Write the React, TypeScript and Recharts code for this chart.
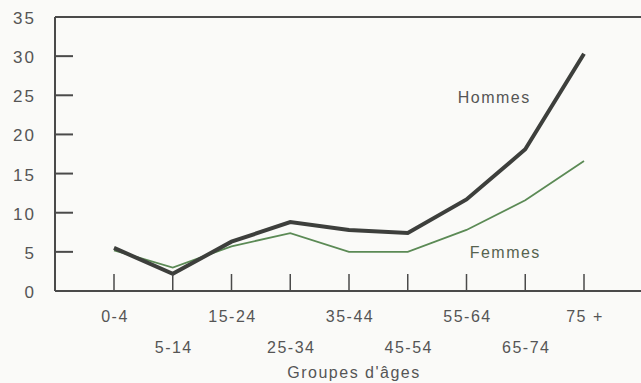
import React from 'react';
import { LineChart, Line, XAxis, YAxis, ReferenceLine, ReferenceDot } from 'recharts';

const categories = ['0-4', '5-14', '15-24', '25-34', '35-44', '45-54', '55-64', '65-74', '75 +'];
const hommes = [5.5, 2.2, 6.3, 8.8, 7.8, 7.4, 11.7, 18.1, 30.3];
const femmes = [5.2, 3.0, 5.7, 7.4, 5.0, 5.0, 7.8, 11.6, 16.6];
const yTicks = [0, 5, 10, 15, 20, 25, 30, 35];

const data = categories.map((c, i) => ({ age: c, hommes: hommes[i], femmes: femmes[i] }));

const axisColor = '#4a4a4a';
const textColor = '#555555';
const font = '"Liberation Sans", Arial, sans-serif';

// inward ticks + labels on the left axis
const LeftTick = (props: any) => {
  const { x, y, payload } = props;
  const v = payload.value;
  return (
    <g>
      {v !== 0 && v !== 35 && <line x1={x} x2={x + 18} y1={y} y2={y} stroke={axisColor} strokeWidth={2} />}
      <text x={x - 19} y={y} dy={7} textAnchor="end" fill={textColor} fontSize={17} letterSpacing={2} fontFamily={font}>
        {v}
      </text>
    </g>
  );
};

const RightTick = (props: any) => {
  const { x, y, payload } = props;
  const v = payload.value;
  if (v === 0 || v === 35) return null;
  return <line x1={x - 18} x2={x} y1={y} y2={y} stroke={axisColor} strokeWidth={2} />;
};

// alternating two-row labels, ticks pointing up into the plot
const BottomTick = (props: any) => {
  const { x, y, payload, index } = props;
  const row = index % 2 === 0 ? 31 : 62;
  return (
    <g>
      <line x1={x} x2={x} y1={y - 17} y2={y} stroke={axisColor} strokeWidth={1.5} />
      <text x={x + 1} y={y + row} textAnchor="middle" fill={textColor} fontSize={16} letterSpacing={1.5} fontFamily={font}>
        {payload.value}
      </text>
    </g>
  );
};

const App: React.FC = () => {
  return (
    <div style={{ position: 'fixed', top: 0, left: 0, width: 641, height: 383, overflow: 'hidden', background: '#fafaf8' }}>
      <LineChart width={660} height={383} data={data} margin={{ top: 17, right: 7, left: 0, bottom: 0 }}>
        <XAxis
          dataKey="age"
          height={92}
          interval={0}
          padding={{ left: 59, right: 69 }}
          stroke={axisColor}
          strokeWidth={2}
          tickLine={false}
          tickSize={0}
          tickMargin={0}
          tick={<BottomTick />}
          label={{ value: "Groupes d'âges", position: 'insideBottom', offset: 5, fill: textColor, fontSize: 16, letterSpacing: 1.5, fontFamily: font }}
        />
        <YAxis
          yAxisId="l"
          width={55}
          domain={[0, 35]}
          ticks={yTicks}
          interval={0}
          stroke={axisColor}
          strokeWidth={2}
          tickLine={false}
          tickSize={0}
          tickMargin={0}
          tick={<LeftTick />}
        />
        <YAxis
          yAxisId="r"
          orientation="right"
          width={0}
          domain={[0, 35]}
          ticks={yTicks}
          interval={0}
          stroke={axisColor}
          strokeWidth={2}
          tickLine={false}
          tickSize={0}
          tickMargin={0}
          tick={<RightTick />}
        />
        <ReferenceLine yAxisId="l" y={35} stroke={axisColor} strokeWidth={2} />
        <Line
          yAxisId="l"
          type="linear"
          dataKey="femmes"
          stroke="#5b8a55"
          strokeWidth={1.8}
          dot={false}
          isAnimationActive={false}
        />
        <Line
          yAxisId="l"
          type="linear"
          dataKey="hommes"
          stroke="#3d3f3c"
          strokeWidth={4}
          dot={false}
          isAnimationActive={false}
        />
        <ReferenceDot
          yAxisId="l"
          x="65-74"
          y={24.7}
          r={0}
          fill="none"
          stroke="none"
          label={{ value: 'Hommes', position: 'center', dx: -31, fill: textColor, fontSize: 16, letterSpacing: 1.5, fontFamily: font }}
        />
        <ReferenceDot
          yAxisId="l"
          x="65-74"
          y={5.0}
          r={0}
          fill="none"
          stroke="none"
          label={{ value: 'Femmes', position: 'center', dx: -20, fill: '#56634f', fontSize: 16, letterSpacing: 1.5, fontFamily: font }}
        />
      </LineChart>
    </div>
  );
};

export default App;
